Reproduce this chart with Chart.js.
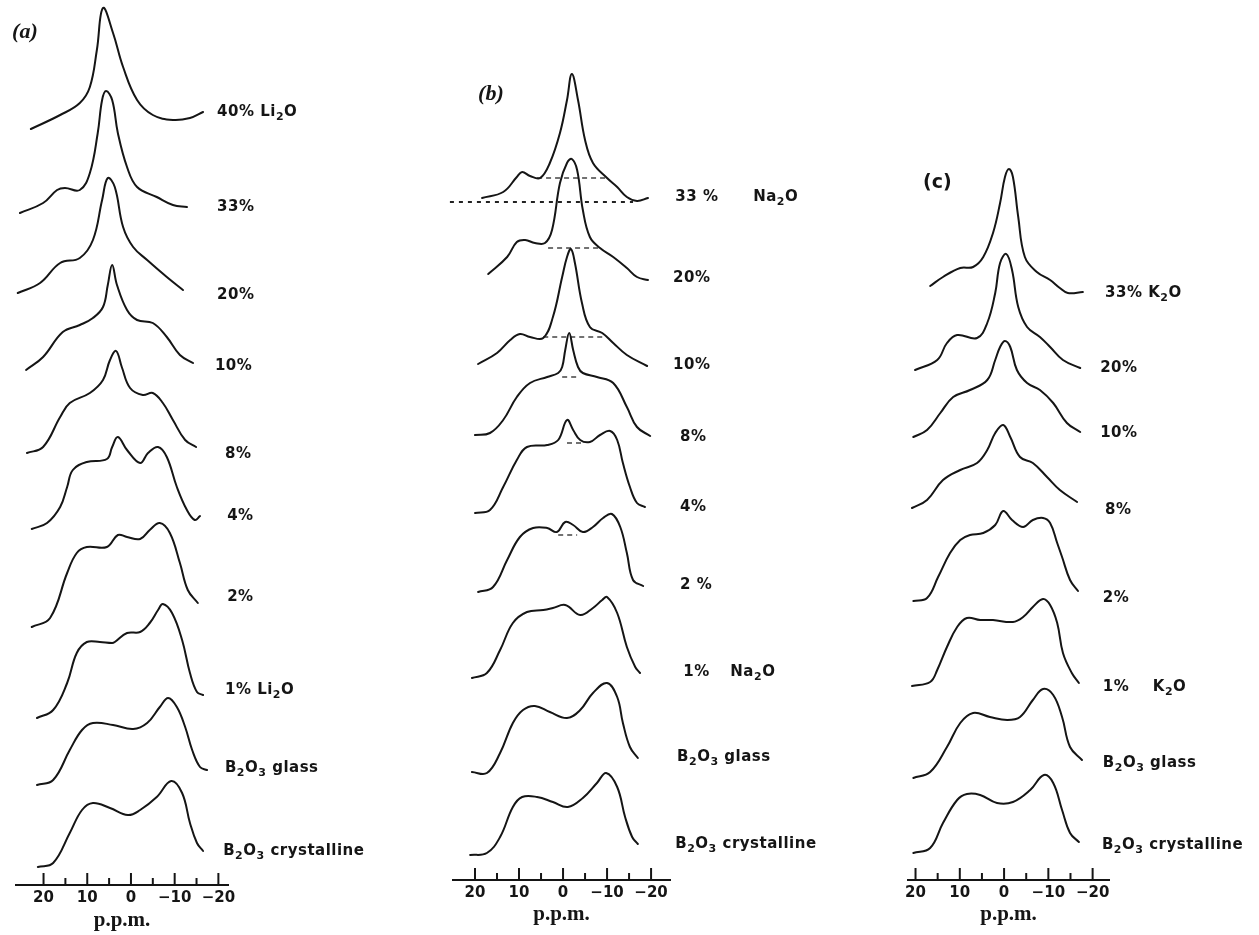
<!DOCTYPE html>
<html>
<head>
<meta charset="utf-8">
<script src="https://cdn.jsdelivr.net/npm/chart.js@4.4.1/dist/chart.umd.min.js"></script>
<style>
html, body { margin: 0; padding: 0; background: #fff; }
body { width: 1259px; height: 935px; position: relative; overflow: hidden; }
canvas { position: absolute; top: 0; }
</style>
</head>
<body>
<canvas id="panelA" width="440" height="935" style="left:0"></canvas>
<canvas id="panelB" width="440" height="935" style="left:440px"></canvas>
<canvas id="panelC" width="379" height="935" style="left:880px"></canvas>
<script>
// ── Spectra: [chemical shift (p.p.m.), intensity above the trace's own baseline]

// (a) Li2O
const LI_40 = [[22.9,0],[16.2,14],[11.7,26],[9.4,42],[7.8,79],[6.4,121],[4.1,96],[1.8,62],[-1.4,29],[-5.0,14],[-9.6,9],[-13.5,11],[-16.5,17]];
const LI_33 = [[25.4,0],[20.1,10],[16.9,23],[15.1,25],[11.7,23],[9.4,40],[7.6,80],[6.6,113],[5.7,122],[4.3,113],[3.0,80],[0.9,46],[-1.4,26],[-5.9,16],[-9.6,8],[-12.8,6]];
const LI_20 = [[25.9,0],[20.8,10],[16.2,30],[11.7,35],[8.7,53],[6.6,93],[5.3,115],[3.7,106],[1.8,66],[-0.5,46],[-3.7,33],[-8.2,16],[-11.9,3]];
const LI_10 = [[24.0,0],[20.1,13],[15.6,38],[11.7,45],[8.7,52],[6.4,63],[5.3,85],[4.3,105],[3.2,85],[0.9,60],[-1.4,50],[-5.0,47],[-8.2,33],[-11.2,15],[-14.2,7]];
const LI_8  = [[23.8,0],[20.1,6],[16.2,36],[14.0,50],[9.4,60],[6.4,73],[4.8,93],[3.4,102],[2.1,86],[0.2,65],[-2.7,58],[-5.0,60],[-7.3,50],[-9.6,33],[-12.4,13],[-14.9,6]];
const LI_4  = [[22.7,0],[19.2,6],[16.2,22],[14.6,42],[13.3,59],[10.1,67],[5.5,70],[4.3,82],[3.0,92],[0.9,79],[-2.1,66],[-3.9,76],[-6.2,82],[-8.2,72],[-10.5,42],[-12.8,19],[-14.6,9],[-15.8,13]];
const LI_2  = [[22.7,0],[18.5,9],[14.6,54],[12.4,74],[10.1,80],[5.5,80],[3.0,92],[0.9,90],[-2.1,88],[-4.3,97],[-6.6,104],[-8.9,94],[-11.2,64],[-13.0,37],[-15.3,24]];
const LI_1  = [[21.5,0],[17.8,8],[14.6,35],[12.4,65],[10.1,76],[7.1,76],[4.3,75],[3.7,76],[0.9,85],[-2.1,86],[-4.3,95],[-6.2,108],[-7.3,114],[-9.4,105],[-11.7,78],[-13.5,45],[-15.1,26],[-16.5,23]];
const LI_GLASS = [[21.5,0],[17.8,5],[14.0,35],[11.2,55],[8.7,62],[4.1,60],[-0.5,56],[-3.7,62],[-6.6,78],[-8.5,87],[-10.5,78],[-12.4,58],[-14.0,35],[-15.8,18],[-17.4,15]];
const LI_CRYST = [[21.3,0],[17.8,4],[14.0,34],[11.2,57],[8.7,64],[4.8,59],[0.7,52],[-2.1,57],[-5.9,70],[-9.2,86],[-11.7,74],[-13.5,44],[-15.1,24],[-16.5,16]];
const LABELS_A = ['40% Li₂O', '33%', '20%', '10%', '8%', '4%', '2%', '1% Li₂O', 'B₂O₃ glass', 'B₂O₃ crystalline'];

// (b) Na2O
const NA_33 = [[18.4,0],[13.6,6],[10.5,21],[9.3,26],[7.5,22],[5.2,20],[3.0,35],[0.7,65],[-0.9,98],[-2.0,124],[-3.4,98],[-5.0,58],[-6.8,35],[-10.0,20],[-12.3,11],[-14.5,1],[-16.8,-3],[-19.3,0]];
const NA_20 = [[17.0,0],[12.7,17],[10.5,32],[8.6,34],[6.4,31],[4.1,31],[2.5,44],[0.7,91],[-0.9,111],[-2.0,115],[-3.2,104],[-4.5,64],[-6.1,37],[-8.4,26],[-11.4,17],[-14.5,6],[-16.8,-3],[-19.3,-6]];
const NA_10 = [[19.3,0],[15.0,11],[12.0,24],[9.8,30],[7.5,27],[4.5,26],[2.3,47],[0.2,87],[-0.9,107],[-1.8,115],[-2.7,101],[-4.3,61],[-6.1,37],[-8.9,31],[-11.4,21],[-14.5,9],[-19.1,-2]];
const NA_8  = [[20.0,0],[16.6,2],[13.6,15],[10.5,38],[7.5,52],[3.6,58],[1.1,62],[0.2,68],[-0.5,85],[-1.4,102],[-2.3,85],[-3.4,68],[-4.5,62],[-7.7,58],[-11.4,52],[-14.5,28],[-16.8,8],[-19.8,-1]];
const NA_4  = [[20.0,0],[16.6,3],[13.6,26],[10.5,53],[8.2,66],[3.6,68],[1.1,73],[-0.9,93],[-2.3,83],[-3.9,73],[-6.1,71],[-8.4,78],[-10.7,82],[-12.3,73],[-13.6,50],[-15.2,26],[-16.8,10],[-18.6,6]];
const NA_2  = [[19.3,0],[15.9,5],[12.7,32],[9.8,55],[6.8,64],[3.6,64],[1.4,60],[-0.5,70],[-2.3,67],[-4.5,60],[-6.8,65],[-9.1,74],[-11.1,78],[-13.0,65],[-14.5,39],[-15.9,12],[-18.2,6]];
const NA_1  = [[20.7,0],[17.3,5],[14.3,28],[11.4,55],[8.2,66],[4.5,68],[2.3,70],[-0.5,73],[-3.9,63],[-6.8,70],[-8.9,78],[-10.0,81],[-12.3,65],[-14.5,31],[-16.4,11],[-17.5,5]];
const NA_GLASS = [[20.7,0],[17.3,-1],[14.3,19],[11.4,49],[9.1,62],[6.4,66],[3.0,60],[-0.9,54],[-3.9,62],[-6.8,79],[-10.0,89],[-12.3,75],[-13.6,49],[-15.2,25],[-17.0,14]];
const NA_CRYST = [[21.1,0],[17.3,2],[14.3,18],[11.4,48],[9.3,58],[5.9,58],[2.3,53],[-1.1,48],[-4.5,57],[-7.7,72],[-9.8,82],[-12.3,68],[-14.1,38],[-15.7,18],[-17.0,11]];
// dashed guide lines: [trace, from ppm, to ppm, intensity]
const NA_GUIDES = [[0,25.7,-15.9,-4],[0,5.9,-10.0,20],[1,3.4,-8.4,26],[2,4.5,-9.1,27],[3,0.2,-3.2,58],[4,-0.9,-4.5,70],[5,1.1,-3.2,57]];
const LABELS_B = ['33 %', '20%', '10%', '8%', '4%', '2 %', '1%', 'B₂O₃ glass', 'B₂O₃ crystalline'];

// (c) K2O
const K_33 = [[16.7,0],[13.8,9],[9.9,18],[7.0,19],[4.7,29],[2.5,53],[0.9,83],[-0.2,109],[-1.1,117],[-2.0,109],[-3.2,69],[-4.7,29],[-7.4,14],[-10.4,6],[-12.6,-2],[-14.4,-7],[-17.8,-6]];
const K_20 = [[20.1,0],[15.1,10],[12.9,27],[10.6,35],[6.1,32],[3.8,47],[2.0,77],[0.9,107],[-0.5,116],[-1.8,100],[-3.2,63],[-5.2,43],[-8.1,33],[-10.4,23],[-13.3,10],[-17.2,2]];
const K_10 = [[20.5,0],[17.4,7],[14.4,24],[11.5,40],[7.7,47],[3.8,57],[2.0,77],[0.9,90],[-0.2,96],[-1.4,90],[-2.9,67],[-5.2,54],[-8.1,47],[-11.1,34],[-14.2,14],[-17.2,5]];
const K_8  = [[20.8,0],[17.4,8],[13.8,28],[9.9,38],[6.1,45],[3.8,58],[2.0,75],[0.2,83],[-1.4,71],[-3.6,51],[-6.5,45],[-9.7,31],[-12.6,18],[-16.5,6]];
const K_2  = [[20.5,0],[17.4,3],[14.9,24],[12.2,48],[9.9,61],[7.7,66],[4.7,68],[2.0,76],[0.2,90],[-1.8,81],[-4.3,74],[-6.5,81],[-8.8,83],[-10.4,78],[-12.0,58],[-13.1,44],[-14.9,21],[-16.7,10]];
const K_1  = [[20.8,0],[16.7,4],[15.1,16],[12.9,39],[10.6,59],[8.4,68],[5.4,66],[2.5,66],[-2.0,64],[-4.3,69],[-6.5,79],[-8.8,87],[-10.4,81],[-12.0,63],[-13.3,33],[-15.3,13],[-16.9,3]];
const K_GLASS = [[20.5,0],[16.7,6],[12.9,31],[9.9,55],[7.0,65],[3.2,61],[-0.7,58],[-3.6,61],[-6.5,78],[-8.8,89],[-11.1,83],[-13.1,61],[-14.9,31],[-17.6,18]];
const K_CRYST = [[20.5,0],[16.7,5],[13.8,30],[10.6,53],[8.4,59],[5.4,58],[1.6,50],[-2.0,51],[-5.9,63],[-9.0,78],[-11.1,70],[-13.1,43],[-14.9,20],[-16.9,11]];
const LABELS_C = ['33% K₂O', '20%', '10%', '8%', '2%', '1%', 'B₂O₃ glass', 'B₂O₃ crystalline'];

const TICK_LABELS = { 20: '20', 10: '10', 0: '0', '-10': '−10', '-20': '−20' };

// ── Layout (stack offsets, label placement) ─────────────
const INK = '#151515';
const LABEL_FONT = 'bold 15px "DejaVu Sans"';
const SUB_FONT = 'bold 11px "DejaVu Sans"';

const PANELS = [
    {
        id: 'panelA', spectra: [LI_40, LI_33, LI_20, LI_10, LI_8, LI_4, LI_2, LI_1, LI_GLASS, LI_CRYST],
        offsets: [756, 672, 592, 515, 432, 356, 258, 167, 100, 18],
        labels: LABELS_A,
        labelX: [-19.7, -19.7, -19.7, -19.2, -21.5, -22.0, -22.0, -21.5, -21.5, -21.1],
        labelY: [773, 678, 590, 519, 431, 369, 288, 195, 117, 34],
        extras: [],
        head: '(a)', headFont: 'italic bold 22px "Liberation Serif"', headPos: [27.2, 853],
        xMin: -22.2, xMax: 26.3, yMax: 885, pad: { left: 16, right: 212 }, titlePad: 2
    },
    {
        id: 'panelB', spectra: [NA_33, NA_20, NA_10, NA_8, NA_4, NA_2, NA_1, NA_GLASS, NA_CRYST],
        offsets: [682, 606, 516, 445, 367, 288, 202, 108, 25],
        labels: LABELS_B,
        labelX: [-25.5, -25.0, -25.0, -26.6, -26.6, -26.6, -27.3, -25.9, -25.5],
        labelY: [683, 602, 515, 443, 373, 295, 208, 123, 36],
        extras: [['Na₂O', -43.2, 683], ['Na₂O', -38.0, 208]],
        head: '(b)', headFont: 'italic bold 22px "Liberation Serif"', headPos: [19.3, 786],
        guides: NA_GUIDES,
        xMin: -24.3, xMax: 25.0, yMax: 880, pad: { left: 13, right: 210 }, titlePad: 8
    },
    {
        id: 'panelC', spectra: [K_33, K_20, K_10, K_8, K_2, K_1, K_GLASS, K_CRYST],
        offsets: [594, 510, 443, 372, 279, 194, 102, 27],
        labels: LABELS_C,
        labelX: [-22.8, -21.7, -21.7, -22.8, -22.3, -22.3, -22.3, -22.1],
        labelY: [587, 512, 447, 370, 282, 193, 117, 35],
        extras: [['K₂O', -33.6, 193]],
        head: '(c)', headFont: 'bold 19px "DejaVu Sans"', headPos: [18.3, 697],
        xMin: -23.7, xMax: 21.7, yMax: 880, pad: { left: 28, right: 150 }, titlePad: 8
    }
];

// Текст с нижними индексами (₂, ₃ рисуются мелкой цифрой ниже строки)
const SUBS = { '₂': '2', '₃': '3' };
function drawRich(ctx, text, x, y) {
    let cx = x;
    for (const ch of text) {
        const sub = SUBS[ch];
        ctx.font = sub ? SUB_FONT : LABEL_FONT;
        const s = sub || ch;
        ctx.fillText(s, cx, sub ? y + 5 : y);
        cx += ctx.measureText(s).width + 0.5;
    }
}

// Подписи, метки шкалы и заголовок панели
function panelText(p) {
    return {
        id: 'panelText',
        afterDraw(chart) {
            const ctx = chart.ctx, xs = chart.scales.x, ys = chart.scales.y;
            ctx.save();
            ctx.strokeStyle = INK;
            ctx.lineWidth = 2;
            xs.ticks.forEach(t => {
                if (Math.abs(t.value) > 20) return;
                const px = xs.getPixelForValue(t.value);
                const len = t.value % 10 === 0 ? 12 : 7;
                ctx.beginPath();
                ctx.moveTo(px, ys.bottom);
                ctx.lineTo(px, ys.bottom - len);
                ctx.stroke();
            });
            ctx.fillStyle = INK;
            ctx.textBaseline = 'middle';
            p.labels.forEach((txt, i) => {
                drawRich(ctx, txt, xs.getPixelForValue(p.labelX[i]), ys.getPixelForValue(p.labelY[i]));
            });
            p.extras.forEach(([txt, x, y]) => drawRich(ctx, txt, xs.getPixelForValue(x), ys.getPixelForValue(y)));
            ctx.font = p.headFont;
            ctx.fillText(p.head, xs.getPixelForValue(p.headPos[0]), ys.getPixelForValue(p.headPos[1]));
            ctx.restore();
        }
    };
}

function buildPanel(p) {
    const datasets = p.spectra.map((s, i) => ({
        data: s.map(([x, y]) => ({ x, y: y + p.offsets[i] })),
        borderColor: INK,
        borderWidth: 2,
        pointRadius: 0,
        tension: 0.4,
        borderJoinStyle: 'round',
        borderCapStyle: 'round'
    }));
    (p.guides || []).forEach(([i, from, to, h], k) => {
        datasets.push({
            data: [{ x: from, y: h + p.offsets[i] }, { x: to, y: h + p.offsets[i] }],
            borderColor: k === 0 ? '#222' : '#444',
            borderWidth: k === 0 ? 2.2 : 1.5,
            borderDash: k === 0 ? [4, 5] : [5, 4],
            pointRadius: 0,
            clip: false
        });
    });

    return new Chart(document.getElementById(p.id), {
        type: 'line',
        data: { datasets },
        options: {
            responsive: false,
            animation: false,
            layout: { padding: { left: p.pad.left, right: p.pad.right, top: 0, bottom: 0 } },
            plugins: { legend: { display: false }, tooltip: { enabled: false } },
            scales: {
                x: {
                    type: 'linear',
                    reverse: true,
                    min: p.xMin,
                    max: p.xMax,
                    grid: { display: false, drawTicks: false },
                    border: { display: true, color: INK, width: 2 },
                    ticks: {
                        stepSize: 5,
                        includeBounds: false,
                        autoSkip: false,
                        maxRotation: 0,
                        padding: 4,
                        color: INK,
                        font: { family: 'DejaVu Sans', size: 15, weight: 'bold' },
                        callback: (v) => TICK_LABELS[v] ?? ''
                    },
                    title: {
                        display: true,
                        text: 'p.p.m.',
                        color: INK,
                        font: { family: 'Liberation Serif', size: 21, weight: 'bold' },
                        padding: { top: 0, bottom: p.titlePad }
                    },
                    afterFit: (scale) => { scale.height = 935 - p.yMax; }
                },
                y: { display: false, min: 0, max: p.yMax }
            }
        },
        plugins: [panelText(p)]
    });
}

PANELS.forEach(buildPanel);
</script>
</body>
</html>
